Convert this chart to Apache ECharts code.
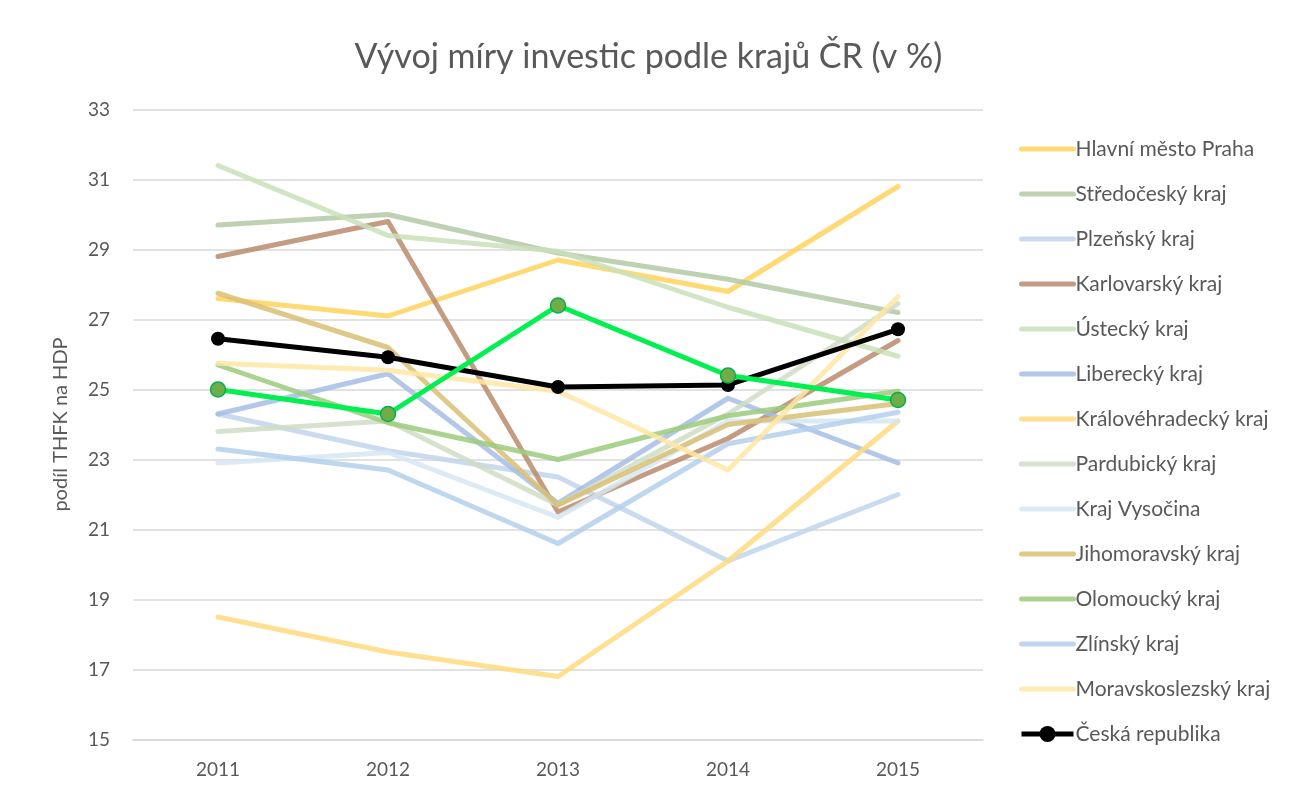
<!DOCTYPE html>
<html lang="cs" style="height: 100%">
<head>
    <meta charset="utf-8">
</head>
<body style="height: 100%; margin: 0; background: #fff">
<div id="container" style="width: 1297px; height: 793px"></div>

<script type="text/javascript" src="https://cdn.jsdelivr.net/npm/echarts@6/dist/echarts.min.js"></script>
<script type="text/javascript">
    // roky na ose x
    var years = ['2011', '2012', '2013', '2014', '2015'];

    // míra investic (%) po krajích
    var praha = [27.6, 27.1, 28.7, 27.8, 30.8];
    var stredocesky = [29.7, 30.0, 28.9, 28.15, 27.2];
    var plzensky = [24.3, 23.25, 22.5, 20.1, 22.0];
    var karlovarsky = [28.8, 29.8, 21.5, 23.6, 26.4];
    var ustecky = [31.4, 29.4, 28.95, 27.35, 25.95];
    var liberecky = [24.3, 25.45, 21.75, 24.75, 22.9];
    var kralovehradecky = [18.5, 17.5, 16.8, 20.1, 24.1];
    var pardubicky = [23.8, 24.1, 21.7, 24.3, 27.45];
    var vysocina = [22.9, 23.2, 21.35, 24.1, 24.1];
    var jihomoravsky = [27.75, 26.2, 21.7, 24.0, 24.6];
    var olomoucky = [25.7, 24.05, 23.0, 24.25, 24.95];
    var zlinsky = [23.3, 22.7, 20.6, 23.45, 24.35];
    var moravskoslezsky = [25.75, 25.55, 24.95, 22.7, 27.65];
    var jihocesky = [25.0, 24.3, 27.4, 25.4, 24.7];
    var cr = [26.45, 25.92, 25.07, 25.13, 26.72];

    var regions = [
      ['Hlavní město Praha', praha, '#FFD35C'],
      ['Středočeský kraj', stredocesky, '#B3C9A6'],
      ['Plzeňský kraj', plzensky, '#C2D5EC'],
      ['Karlovarský kraj', karlovarsky, '#B98B6C'],
      ['Ústecký kraj', ustecky, '#C9E0BA'],
      ['Liberecký kraj', liberecky, '#A6BDE5'],
      ['Královéhradecký kraj', kralovehradecky, '#FFDB7E'],
      ['Pardubický kraj', pardubicky, '#CFDDC4'],
      ['Kraj Vysočina', vysocina, '#D6E6F4'],
      ['Jihomoravský kraj', jihomoravsky, '#D9BF74'],
      ['Olomoucký kraj', olomoucky, '#9CCB7D'],
      ['Zlínský kraj', zlinsky, '#B3D0EC'],
      ['Moravskoslezský kraj', moravskoslezsky, '#FFE6A3']
    ];

    var font = 'Lato, "Noto Sans", sans-serif';
    var grey = '#595959';

    var series = regions.map(function (r) {
      return {
        name: r[0],
        type: 'line',
        data: r[1],
        symbol: 'none',
        color: r[2],
        lineStyle: { width: 5, opacity: 0.85, cap: 'round', join: 'round' },
        emphasis: { disabled: true }
      };
    });

    series.push({
      name: 'Česká republika',
      type: 'line',
      data: cr,
      symbol: 'circle',
      symbolSize: 14,
      color: '#000',
      lineStyle: { width: 5, color: '#000' },
      itemStyle: { color: '#000' },
      emphasis: { disabled: true }
    });

    // Jihočeský kraj - zvýrazněná řada, v legendě není
    series.push({
      name: 'Jihočeský kraj',
      type: 'line',
      data: jihocesky,
      symbol: 'circle',
      symbolSize: 15,
      lineStyle: { width: 5, color: '#00F050' },
      itemStyle: { color: '#70AD47', borderColor: '#00B050', borderWidth: 1.5 },
      emphasis: { disabled: true }
    });

    // legenda: kraje jen čárou, ČR čárou s kolečkem
    var legendData = regions.map(function (r) {
      return { name: r[0], itemStyle: { opacity: 0 } };
    });
    legendData.push({ name: 'Česká republika' });

    var myChart = echarts.init(document.getElementById('container'), null, { renderer: 'canvas' });

    var option = {
      animation: false,
      backgroundColor: '#fff',
      title: {
        text: 'Vývoj míry investic podle krajů ČR (v %)',
        left: 'center',
        top: 35,
        textStyle: { fontFamily: font, fontSize: 34, fontWeight: 'normal', color: grey }
      },
      legend: {
        data: legendData,
        orient: 'vertical',
        left: 1014,
        top: 133,
        itemWidth: 52,
        itemHeight: 20,
        itemGap: 23,
        selectedMode: false,
        lineStyle: { width: 5 },
        textStyle: { fontFamily: font, fontSize: 21, color: grey, lineHeight: 22, padding: [0, 0, 0, -3] }
      },
      grid: { left: 133, right: 314, top: 109.5, bottom: 53.5 },
      xAxis: {
        type: 'category',
        data: years,
        boundaryGap: true,
        axisLine: { lineStyle: { color: '#D9D9D9', width: 1.5 } },
        axisTick: { show: false },
        axisLabel: { fontFamily: font, fontSize: 19, color: grey, margin: 21 }
      },
      yAxis: {
        type: 'value',
        min: 15,
        max: 33,
        interval: 2,
        name: 'podíl THFK na HDP',
        nameLocation: 'middle',
        nameGap: 62,
        nameTextStyle: { fontFamily: font, fontSize: 20, color: grey },
        axisLine: { show: false },
        axisTick: { show: false },
        axisLabel: { fontFamily: font, fontSize: 19, color: grey, margin: 23 },
        splitLine: { lineStyle: { color: '#D9D9D9', width: 1.5 } }
      },
      series: series
    };

    myChart.setOption(option);
    window.addEventListener('resize', myChart.resize);
</script>
</body>
</html>
